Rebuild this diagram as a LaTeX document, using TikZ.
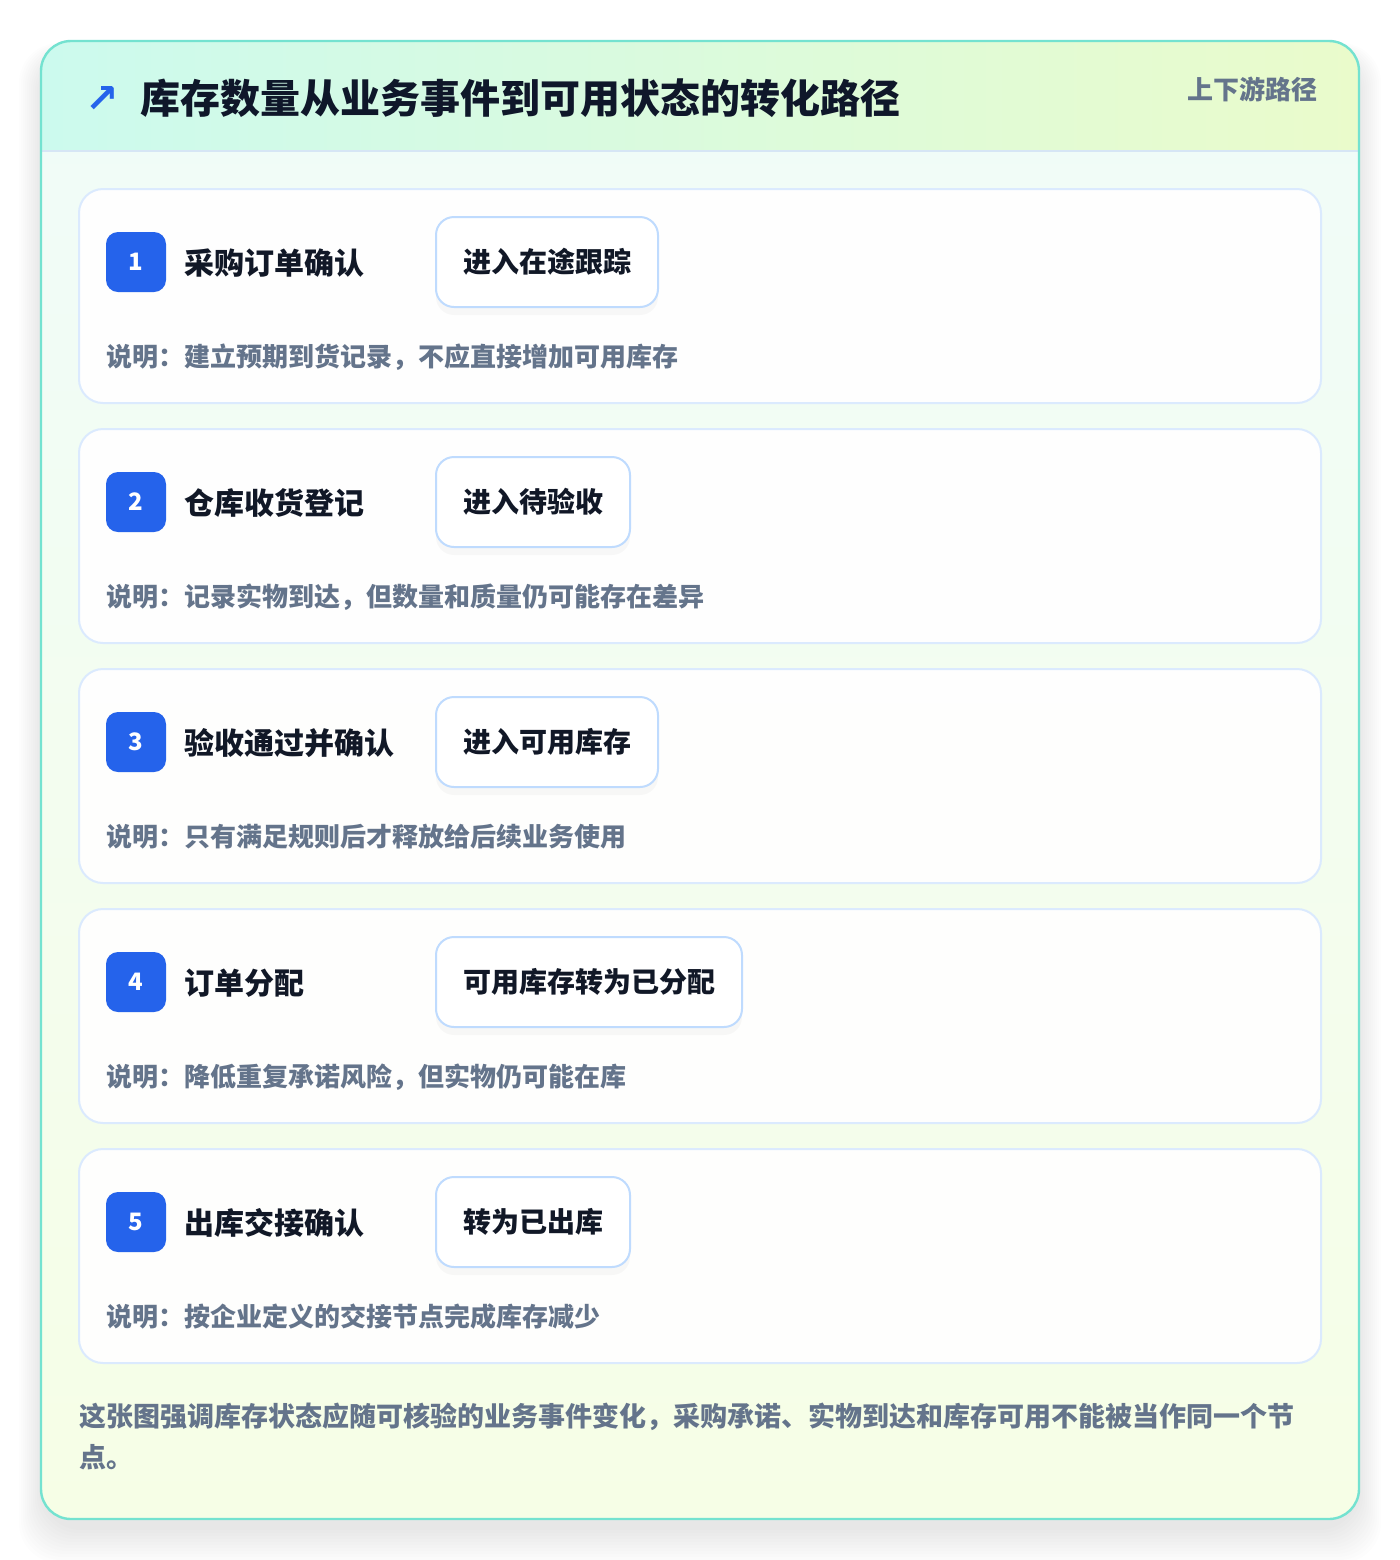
\documentclass[tikz,border=0pt]{standalone}
\usepackage{fontspec}
\setmainfont{Noto Sans CJK SC}
\newfontfamily\symfont{DejaVu Sans}
\usetikzlibrary{shadows}

\definecolor{titledark}{HTML}{0F172A}
\definecolor{stepdark}{HTML}{111827}
\definecolor{notegray}{HTML}{64748B}
\definecolor{badgeblue}{HTML}{2563EB}
\definecolor{pillline}{HTML}{BFDBFE}
\definecolor{cardline}{HTML}{DBEAFE}
\definecolor{outerline}{HTML}{74E2D0}
\definecolor{headl}{HTML}{CCFAEE}
\definecolor{headr}{HTML}{EAFBCB}
\definecolor{headline}{HTML}{D6E6F5}
\definecolor{bodytop}{HTML}{F0FCF9}
\definecolor{bodybot}{HTML}{F6FEE6}

\begin{document}
\begin{tikzpicture}[x=0.5pt, y=-0.5pt,
		card_style/.style={draw=cardline, fill=white, fill opacity=0.93, line width=1pt, rounded corners=12pt, minimum width=621pt, minimum height=107pt},
		badge_style/.style={fill=badgeblue, rounded corners=6pt, minimum size=30pt, inner sep=0pt, text=white, font=\fontsize{12}{12}\selectfont\bfseries},
		step_style/.style={anchor=west, inner sep=0pt, text=stepdark, font=\fontsize{15}{15}\selectfont\bfseries},
		pill_style/.style={anchor=west, draw=pillline, fill=white, line width=1pt, rounded corners=9pt, minimum height=45pt, inner xsep=13.5pt, text=stepdark, font=\fontsize{14}{14}\selectfont\bfseries, drop shadow={opacity=0.05, shadow xshift=0pt, shadow yshift=-4pt}},
		note_style/.style={anchor=west, inner sep=0pt, text=notegray, font=\fontsize{13}{13}\selectfont\bfseries}]

		\useasboundingbox[fill=white] (0,0) rectangle (1400,1560);

		% outer panel
		\foreach \i in {0,...,11}
			\fill[black, opacity=0.007, rounded corners=20pt] ({41-2*\i},{54-1*\i}) rectangle ({1359+2*\i},{1530+3*\i});
		\shade[top color=bodytop, bottom color=bodybot, rounded corners=15pt] (41,41) rectangle (1359,1519);
		\begin{scope}
			\clip[rounded corners=15pt] (41,41) rectangle (1359,1519);
			\shade[left color=headl, right color=headr] (41,41) rectangle (1359,151);
		\end{scope}
		\draw[headline, line width=1pt] (41,151) -- (1359,151);
		\draw[outerline, line width=1.2pt, rounded corners=15pt] (41,41) rectangle (1359,1519);

		% header
		\node[text=badgeblue, font=\symfont\fontsize{20}{20}\selectfont\bfseries] (icon) at (102,99) {↗};
		\node[anchor=west, inner sep=0pt, text=titledark, font=\fontsize{20}{20}\selectfont\bfseries] (title) at (140,98) {库存数量从业务事件到可用状态的转化路径};
		\node[anchor=east, inner sep=0pt, text=notegray, font=\fontsize{13}{13}\selectfont\bfseries] (tag) at (1318,89) {上下游路径};

		% steps
		\node[card_style] (c1) at (700,296) {};
		\node[badge_style] (b1) at (136,262) {1};
		\node[step_style] (s1) at (184,263) {采购订单确认};
		\node[pill_style] (p1) at (435,262) {进入在途跟踪};
		\node[note_style] (d1) at (106,357) {说明：建立预期到货记录，不应直接增加可用库存};

		\node[card_style] (c2) at (700,536) {};
		\node[badge_style] (b2) at (136,502) {2};
		\node[step_style] (s2) at (184,503) {仓库收货登记};
		\node[pill_style] (p2) at (435,502) {进入待验收};
		\node[note_style] (d2) at (106,597) {说明：记录实物到达，但数量和质量仍可能存在差异};

		\node[card_style] (c3) at (700,776) {};
		\node[badge_style] (b3) at (136,742) {3};
		\node[step_style] (s3) at (184,743) {验收通过并确认};
		\node[pill_style] (p3) at (435,742) {进入可用库存};
		\node[note_style] (d3) at (106,837) {说明：只有满足规则后才释放给后续业务使用};

		\node[card_style] (c4) at (700,1016) {};
		\node[badge_style] (b4) at (136,982) {4};
		\node[step_style] (s4) at (184,983) {订单分配};
		\node[pill_style] (p4) at (435,982) {可用库存转为已分配};
		\node[note_style] (d4) at (106,1077) {说明：降低重复承诺风险，但实物仍可能在库};

		\node[card_style] (c5) at (700,1256) {};
		\node[badge_style] (b5) at (136,1222) {5};
		\node[step_style] (s5) at (184,1223) {出库交接确认};
		\node[pill_style] (p5) at (435,1222) {转为已出库};
		\node[note_style] (d5) at (106,1317) {说明：按企业定义的交接节点完成库存减少};

		% footer
		\node[anchor=west, inner sep=0pt, align=left, text=notegray, font=\fontsize{13.5}{20.5}\selectfont\bfseries] (foot) at (79,1436) {这张图强调库存状态应随可核验的业务事件变化，采购承诺、实物到达和库存可用不能被当作同一个节\\点。};
\end{tikzpicture}
\end{document}
